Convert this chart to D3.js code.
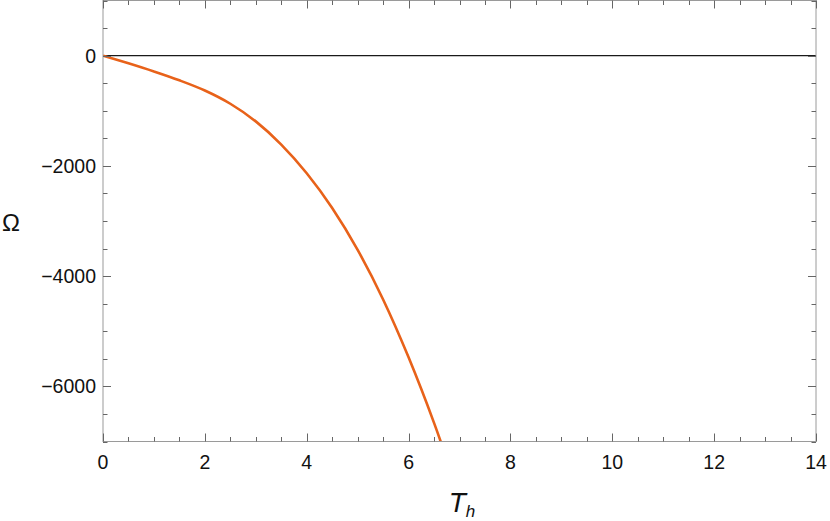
<!DOCTYPE html>
<html>
<head>
<meta charset="utf-8">
<script src="https://cdn.jsdelivr.net/npm/d3@7"></script>
<style>
  body { margin: 0; background: #fff; }
  svg { display: block; font-family: "Liberation Sans", Arial, sans-serif; }
</style>
</head>
<body>
<div id="chart"></div>
<script>
// data
const tValues = [0, 0.5, 1, 1.5, 2, 2.5, 3, 3.5, 4, 4.5, 5, 5.5, 6, 6.5, 7];
const omegaValues = [0, -140, -288, -448, -633, -873, -1193, -1613, -2133, -2763, -3523, -4423, -5473, -6663, -7993];
const xTicks = [0, 2, 4, 6, 8, 10, 12, 14];
const yTicks = [0, -2000, -4000, -6000];

const W = 830, H = 521;
const margin = { top: 0.5, right: 14, bottom: 79.5, left: 103 };

const svg = d3.select("#chart").append("svg")
  .attr("width", W)
  .attr("height", H);

const x = d3.scaleLinear().domain([0, 14]).range([margin.left, W - margin.right]);
const y = d3.scaleLinear().domain([-7000, 1000]).range([H - margin.bottom, margin.top]);

// clip for the curve
svg.append("clipPath").attr("id", "clip")
  .append("rect")
  .attr("x", x(0)).attr("y", y(1000))
  .attr("width", x(14) - x(0)).attr("height", y(-7000) - y(1000));

// zero line
svg.append("line")
  .attr("x1", x(0)).attr("x2", x(14))
  .attr("y1", y(0)).attr("y2", y(0))
  .attr("stroke", "#1a1a1a").attr("stroke-width", 1.3);

// curve
const data = tValues.map((t, i) => ({ t: t, w: omegaValues[i] }));
const line = d3.line()
  .x(d => x(d.t))
  .y(d => y(d.w))
  .curve(d3.curveMonotoneX);

svg.append("path")
  .datum(data)
  .attr("clip-path", "url(#clip)")
  .attr("fill", "none")
  .attr("stroke", "#e8621a")
  .attr("stroke-width", 2.6)
  .attr("d", line);

// frame
const frameColor = "#9a9a9a";
svg.append("rect")
  .attr("x", x(0)).attr("y", y(1000))
  .attr("width", x(14) - x(0)).attr("height", y(-7000) - y(1000))
  .attr("fill", "none").attr("stroke", frameColor).attr("stroke-width", 1);

// ticks (inward, on all four sides)
const tickColor = "#666";
const xMinor = d3.range(0, 14.001, 0.5);
const yMinor = d3.range(-7000, 1000.1, 500);
const ticks = svg.append("g").attr("stroke", tickColor).attr("stroke-width", 1);

xMinor.forEach(v => {
  const len = (v % 2 === 0) ? 8 : 4.5;
  const px = Math.round(x(v)) + 0.5;
  ticks.append("line").attr("x1", px).attr("x2", px)
    .attr("y1", y(-7000)).attr("y2", y(-7000) - len);
  ticks.append("line").attr("x1", px).attr("x2", px)
    .attr("y1", y(1000)).attr("y2", y(1000) + len);
});
yMinor.forEach(v => {
  const len = (v % 2000 === 0) ? 8 : 4.5;
  const py = Math.round(y(v)) + 0.5;
  ticks.append("line").attr("y1", py).attr("y2", py)
    .attr("x1", x(0)).attr("x2", x(0) + len);
  ticks.append("line").attr("y1", py).attr("y2", py)
    .attr("x1", x(14)).attr("x2", x(14) - len);
});

// tick labels
svg.append("g").selectAll("text")
  .data(xTicks).enter().append("text")
  .attr("x", d => x(d))
  .attr("y", y(-7000) + 27)
  .attr("text-anchor", "middle")
  .attr("font-size", 19.5)
  .attr("fill", "#111")
  .text(d => d);

svg.append("g").selectAll("text")
  .data(yTicks).enter().append("text")
  .attr("x", x(0) - 7)
  .attr("y", d => y(d) + 7)
  .attr("text-anchor", "end")
  .attr("font-size", 19.5)
  .attr("fill", "#111")
  .text(d => String(d).replace("-", "\u2212"));

// axis labels
svg.append("text")
  .attr("x", 11)
  .attr("y", 231)
  .attr("text-anchor", "middle")
  .attr("font-size", 24)
  .attr("fill", "#111")
  .text("\u03A9");

const xl = svg.append("text")
  .attr("x", 462)
  .attr("y", 512)
  .attr("text-anchor", "middle")
  .attr("font-size", 28)
  .attr("font-style", "italic")
  .attr("fill", "#111");
xl.append("tspan").text("T");
xl.append("tspan").attr("font-size", 17).attr("dy", 5).text("h");
</script>
</body>
</html>
